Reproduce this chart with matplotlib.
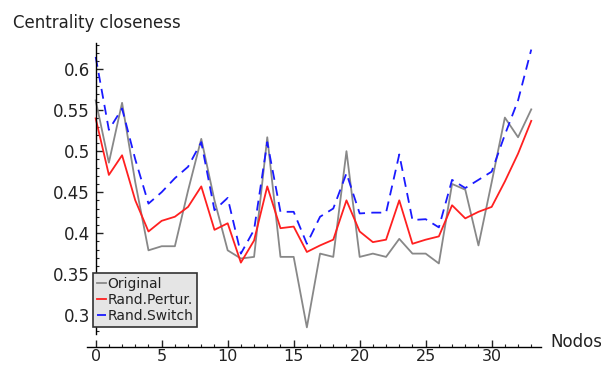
#!/usr/bin/env python3
"""
Centrality closeness per node: original graph vs. two anonymisation methods.
Sage-like axes style (floating spines, inward ticks).
"""
import matplotlib
matplotlib.use("Agg")
import matplotlib.pyplot as plt
from matplotlib.ticker import MultipleLocator
import numpy as np

nodes = np.arange(34)

original = [0.562, 0.486, 0.559, 0.462, 0.379, 0.384, 0.384, 0.452, 0.515, 0.440,
            0.379, 0.369, 0.371, 0.517, 0.371, 0.371, 0.285, 0.375, 0.371, 0.500,
            0.371, 0.375, 0.371, 0.393, 0.375, 0.375, 0.363, 0.460, 0.453, 0.385,
            0.462, 0.541, 0.517, 0.551]

rand_pertur = [0.540, 0.471, 0.495, 0.440, 0.402, 0.415, 0.420, 0.432, 0.457, 0.404,
               0.412, 0.364, 0.391, 0.457, 0.406, 0.408, 0.377, 0.385, 0.392, 0.440,
               0.402, 0.389, 0.392, 0.440, 0.387, 0.392, 0.396, 0.434, 0.418, 0.426,
               0.432, 0.463, 0.497, 0.537]

rand_switch = [0.615, 0.526, 0.552, 0.490, 0.436, 0.450, 0.467, 0.481, 0.511, 0.428,
               0.443, 0.375, 0.404, 0.511, 0.426, 0.426, 0.387, 0.420, 0.430, 0.473,
               0.424, 0.425, 0.425, 0.496, 0.416, 0.417, 0.407, 0.465, 0.455, 0.465,
               0.475, 0.520, 0.562, 0.624]

W, H = 601, 367
fig = plt.figure(figsize=(W / 100, H / 100), dpi=100)

# axes box in pixels (left, bottom from top-left origin)
x0, x1 = 86.7, 540.5
y_top, y_bot = 43.0, 346.7
ax = fig.add_axes([x0 / W, (H - y_bot) / H, (x1 - x0) / W, (y_bot - y_top) / H])

ax.plot(nodes, original, color='#888888', linewidth=1.3, label='Original')
ax.plot(nodes, rand_pertur, color='#ff2020', linewidth=1.3, label='Rand.Pertur.')
ax.plot(nodes, rand_switch, color='#1a1aff', linewidth=1.3, linestyle=(0, (5.5, 3.5)),
        label='Rand.Switch')

ax.set_xlim(-0.68, 33.7)
ax.set_ylim(0.2614, 0.632)

# Sage-like floating spines
for side in ('top', 'right'):
    ax.spines[side].set_visible(False)
ax.spines['left'].set_position(('data', 0))
ax.spines['left'].set_bounds(0.277, 0.632)
ax.spines['left'].set_linewidth(1.0)
ax.spines['bottom'].set_linewidth(1.0)

ax.xaxis.set_minor_locator(MultipleLocator(1))
ax.set_xticks([0, 5, 10, 15, 20, 25, 30])
ax.set_yticks([0.3, 0.35, 0.4, 0.45, 0.5, 0.55, 0.6])
ax.set_yticklabels(['0.3', '0.35', '0.4', '0.45', '0.5', '0.55', '0.6'])
ax.set_yticks(np.arange(0.28, 0.6301, 0.01), minor=True)

ax.tick_params(axis='both', which='major', direction='in', length=5, width=1.0,
               labelsize=12, colors='#222222')
ax.tick_params(axis='both', which='minor', direction='in', length=2.5, width=0.8,
               colors='#222222')
ax.tick_params(axis='y', which='major', pad=4)
ax.tick_params(axis='x', which='major', pad=1.5, labelsize=11.5)

fig.text(12.7 / W, 1 - 28 / H, 'Centrality closeness', fontsize=12,
         color='#222222', ha='left', va='baseline')
fig.text(550.5 / W, 1 - 346.7 / H, 'Nodos', fontsize=12,
         color='#222222', ha='left', va='baseline')

leg = ax.legend(loc='lower left', bbox_to_anchor=(93.3 / W, 1 - 327.3 / H),
                bbox_transform=fig.transFigure, fontsize=10, fancybox=False,
                framealpha=1, handlelength=0.6, handletextpad=0.1,
                labelspacing=0.15, borderpad=0.3, borderaxespad=0)
leg.get_frame().set_facecolor('#e5e5e5')
leg.get_frame().set_edgecolor('#333333')
leg.get_frame().set_linewidth(1.2)
for t in leg.get_texts():
    t.set_color('#222222')

fig.savefig('out.png', dpi=100, facecolor='white')
